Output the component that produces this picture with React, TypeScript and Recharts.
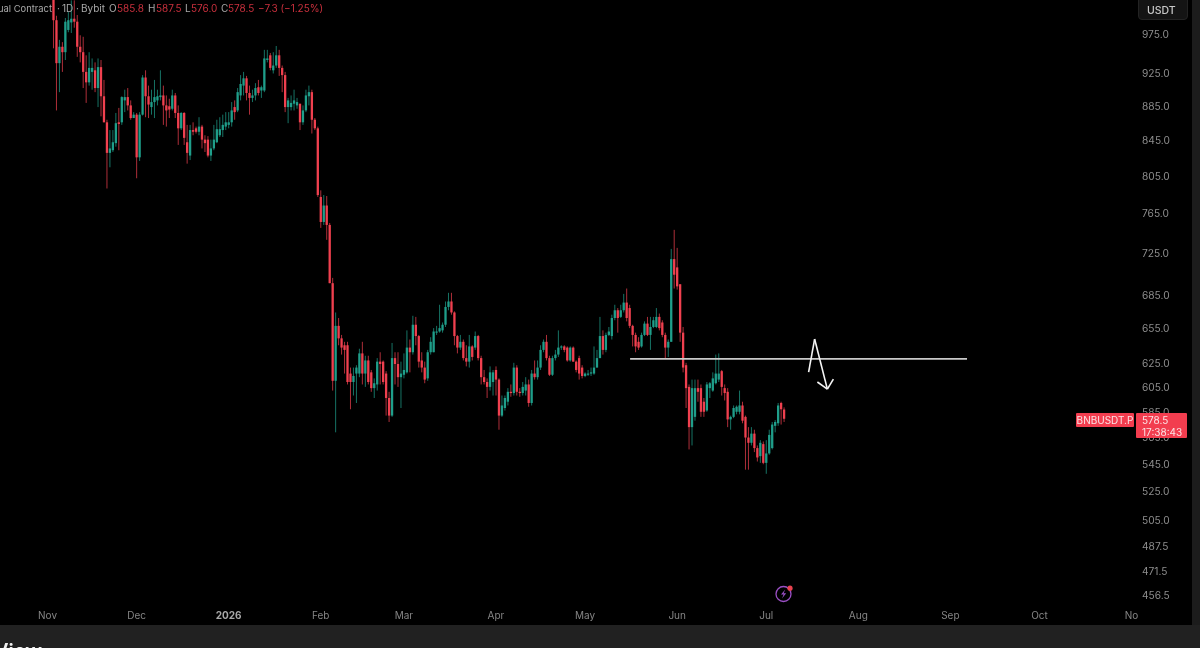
import React from "react";
import { ComposedChart, Bar, XAxis, YAxis, ReferenceLine } from "recharts";

const opens = [
  1040,992,936,957,950,979,989,994,990,957,
  950,925,912,925,927,905,931,895,864,829,
  832,840,864,864,890,894,884,869,873,824,
  873,918,895,882,888,890,894,896,884,883,
  880,896,875,857,875,841,826,855,857,853,
  859,844,844,826,834,841,849,855,859,861,
  864,882,878,896,908,917,899,893,896,906,
  902,902,940,946,927,933,946,930,921,882,
  882,886,884,886,864,878,895,900,867,857,
  781,755,772,752,695,609,656,645,639,639,
  615,608,615,615,632,615,626,616,603,606,
  625,625,615,595,581,628,623,612,614,616,
  637,633,657,647,626,620,611,633,633,650,
  651,652,657,673,678,668,647,637,642,628,
  625,638,637,647,628,612,608,604,608,618,
  610,581,587,592,600,599,620,600,599,601,
  606,591,615,612,620,635,642,628,614,628,
  631,637,638,637,626,637,625,628,620,613,
  614,615,615,620,628,647,635,648,647,663,
  670,664,670,677,672,656,648,642,638,648,
  658,648,655,655,664,659,648,637,642,718,
  710,694,650,622,604,572,580,603,603,592,
  585,603,601,607,610,617,603,600,578,580,
  584,584,589,580,564,560,567,556,550,559,
  545,552,556,573,575,591,585.8,
];
const highs = [
  1060,998,966,963,995,1003,1019,1019,999,972,
  970,946,950,942,937,942,940,915,867,855,
  855,875,881,895,903,905,890,876,875,876,
  921,927,908,903,915,903,927,908,896,892,
  903,899,884,876,876,861,861,864,859,870,
  861,849,848,844,861,867,870,873,876,876,
  888,890,905,921,925,920,908,903,911,915,
  908,953,953,949,950,958,953,933,925,893,
  896,903,893,886,884,903,908,903,869,859,
  788,783,782,754,700,668,663,648,642,642,
  620,620,622,636,642,630,630,618,611,628,
  633,626,617,600,641,633,633,625,632,652,
  644,665,664,648,633,625,635,646,654,656,
  675,659,678,686,686,669,648,648,644,639,
  648,639,651,648,630,618,611,621,618,621,
  611,597,597,603,606,624,622,603,608,612,
  610,618,626,626,639,644,648,630,630,635,
  652,639,639,638,638,638,626,630,622,616,
  618,620,638,635,664,652,650,655,666,675,
  672,675,685,690,675,657,650,646,650,660,
  664,664,664,672,667,661,650,644,728,747,
  729,694,655,624,606,610,610,610,606,595,
  608,608,616,631,632,618,606,603,581,589,
  589,601,592,581,572,572,570,558,562,561,
  562,570,576,577.5,591,592,587.5,
];
const lows = [
  955,878,900,925,940,976,975,982,944,937,
  905,887,908,903,900,882,871,864,790,813,
  830,836,832,861,876,878,867,869,801,820,
  872,870,869,873,869,884,890,861,859,869,
  878,869,838,855,838,817,821,849,851,849,
  834,830,824,820,832,840,847,847,855,857,
  859,867,876,890,896,890,873,888,890,896,
  893,900,937,927,923,930,920,900,876,863,
  878,878,880,855,861,876,884,851,855,781,
  749,752,737,695,601,568,639,631,615,606,
  586,597,591,612,606,604,606,600,595,601,
  606,606,581,576,580,606,604,587,611,615,
  616,631,639,620,616,607,609,631,633,648,
  650,650,655,670,666,639,632,635,626,621,
  620,626,635,626,606,606,595,601,597,597,
  570,580,585,589,596,597,597,596,597,597,
  588,589,610,610,618,633,626,613,613,626,
  629,635,633,625,625,625,616,610,611,612,
  613,613,614,620,628,631,633,647,644,661,
  650,663,668,660,654,638,633,635,637,647,
  647,635,654,654,652,646,628,629,642,690,
  689,642,616,587,555,558,577,592,580,580,
  584,595,600,606,608,597,593,572,570,579,
  582,582,575,540,540,558,553,546,545,544,
  537,551,555,568,573,574,576,
];
const closes = [
  992,936,957,950,990,992,994,990,957,950,
  925,912,930,930,905,931,895,864,829,834,
  841,863,862,894,894,884,869,873,824,873,
  918,895,885,888,894,895,896,884,878,879,
  896,875,857,875,846,829,855,853,853,859,
  844,840,826,834,844,856,856,861,864,864,
  878,876,900,910,917,899,893,896,905,899,
  906,942,942,930,933,946,930,921,882,890,
  887,890,888,864,878,896,900,867,857,783,
  755,772,752,695,609,656,645,637,635,608,
  608,613,620,632,615,626,608,603,607,625,
  623,608,595,581,628,623,612,615,618,637,
  633,657,647,625,620,610,633,642,651,651,
  654,657,673,678,668,647,637,642,628,625,
  638,629,647,628,612,608,604,616,616,610,
  581,589,595,600,599,620,600,599,604,606,
  591,615,612,620,635,642,628,614,628,631,
  637,638,635,626,637,625,618,615,613,615,
  615,616,620,628,647,635,648,651,663,670,
  663,670,677,663,656,648,638,637,648,658,
  648,655,661,664,654,648,637,642,718,703,
  692,650,620,603,572,603,603,600,584,584,
  606,607,611,615,615,604,599,578,580,587,
  588,589,577,564,560,567,556,549,560,545,
  552,566,574,576,589,586,578.5,
];

const priceTicks = [975,925,885,845,805,765,725,685,655,625,605,585,565,545,525,505,487.5,471.5,456.5];
const priceDomain = [452.7, 1019.5];

const monthTicks = [
  { date: "2025-11-01", label: "Nov" },
  { date: "2025-12-01", label: "Dec" },
  { date: "2026-01-01", label: "2026" },
  { date: "2026-02-01", label: "Feb" },
  { date: "2026-03-01", label: "Mar" },
  { date: "2026-04-01", label: "Apr" },
  { date: "2026-05-01", label: "May" },
  { date: "2026-06-01", label: "Jun" },
  { date: "2026-07-01", label: "Jul" },
  { date: "2026-08-01", label: "Aug" },
  { date: "2026-09-01", label: "Sep" },
  { date: "2026-10-01", label: "Oct" },
  { date: "2026-11-01", label: "No" },
];

const TOTAL_DAYS = 382;
const FIRST_CANDLE_DAY = 17;
const START_DATE = Date.UTC(2025, 9, 17);

const rows = Array.from({ length: TOTAL_DAYS }, (_, i) => {
  const date = new Date(START_DATE + i * 86400000).toISOString().slice(0, 10);
  const k = i - FIRST_CANDLE_DAY;
  if (k < 0 || k >= opens.length) return { date, open: null, high: null, low: null, close: null };
  return { date, open: opens[k], high: highs[k], low: lows[k], close: closes[k] };
});

// Hand-drawn annotations, [day, price]
const levelLine = [[211.1, 627.4], [324.25, 627.4]];
const zigzag = [[271.05, 616.2], [273.07, 644.4], [277.35, 602.2]];
const arrowHead = [[274.0, 608], [277.35, 602.2], [279.37, 610.4]];

const UP = "#1f9e8a";
const DOWN = "#f0404f";
const FONT = "Inter, sans-serif";

function Candle(props: any) {
  const { x, y, width, height, payload } = props;
  if (payload == null || payload.high == null || !isFinite(y) || !isFinite(height)) return null;
  const { open, high, low, close } = payload;
  const up = close >= open;
  const color = up ? UP : DOWN;
  const span = Math.log(high / low) || 1;
  const top = y + (height * Math.log(high / Math.max(open, close))) / span;
  const bottom = y + (height * Math.log(high / Math.min(open, close))) / span;
  const cx = x + width / 2;
  return (
    <g>
      <rect x={cx - 0.5} y={y} width={1} height={height} fill={color} fillOpacity={0.72} />
      <rect x={cx - 1.15} y={top} width={2.3} height={Math.max(bottom - top, 1)} fill={color} />
    </g>
  );
}

function MonthTick(props: any) {
  const { x, y, payload } = props;
  const t = monthTicks.find((m) => m.date === payload.value);
  if (!t) return null;
  const bold = t.label === "2026";
  return (
    <text x={x} y={y} textAnchor="middle" dominantBaseline="central" fontSize={10} fontFamily={FONT}
      fontWeight={bold ? 700 : 400} fill={bold ? "#a8a8a8" : "#858585"}>
      {t.label}
    </text>
  );
}

function PriceTick(props: any) {
  const { x, y, payload } = props;
  return (
    <text x={x} y={y + 1} textAnchor="start" dominantBaseline="central" fontSize={10.2} fontFamily={FONT} fill="#8e8e8e">
      {Number(payload.value).toFixed(1)}
    </text>
  );
}

function segments(points: number[][], color: string, w: number, prefix: string) {
  return points.slice(1).map((p, i) => (
    <ReferenceLine
      key={prefix + i}
      xAxisId="t"
      ifOverflow="visible"
      stroke={color}
      strokeWidth={w}
      segment={[
        { x: points[i][0], y: points[i][1] },
        { x: p[0], y: p[1] },
      ]}
    />
  ));
}

const LABEL = "#a9a9a9";
const VALUE = "#c9303d";
const headerParts: [number, string, string, number][] = [
  [-2, "ual Contract", LABEL, 9.4],
  [57, "·", LABEL, 10],
  [62, "1D", LABEL, 10],
  [76, "·", LABEL, 10],
  [81, "Bybit", LABEL, 10],
  [109, "O", LABEL, 10],
  [117, "585.8", VALUE, 10],
  [148, "H", LABEL, 10],
  [156, "587.5", VALUE, 10],
  [185, "L", LABEL, 10],
  [191, "576.0", VALUE, 10],
  [221, "C", LABEL, 10],
  [228, "578.5", VALUE, 10],
  [258, "−7.3 (−1.25%)", VALUE, 10],
];

export default function App() {
  return (
    <div style={{ position: "absolute", top: 0, left: 0, width: 1200, height: 648, background: "#000", overflow: "hidden", fontFamily: FONT, filter: "blur(0.3px)" }}>
      <ComposedChart
        width={1200}
        height={625}
        data={rows}
        margin={{ top: 0, right: 0, bottom: 0, left: 1.5 }}
        barCategoryGap={0}
        barGap={0}
      >
        <XAxis
          dataKey="date"
          type="category"
          height={25}
          ticks={monthTicks.map((m) => m.date)}
          interval={0}
          axisLine={false}
          tickLine={false}
          tickMargin={0}
          tick={(p: any) => <MonthTick {...p} y={615} />}
          allowDataOverflow
        />
        <XAxis xAxisId="t" type="number" hide domain={[-0.5, TOTAL_DAYS - 0.5]} allowDataOverflow />
        <YAxis
          orientation="right"
          width={64}
          scale="log"
          type="number"
          domain={priceDomain}
          ticks={priceTicks}
          interval={0}
          allowDataOverflow
          axisLine={false}
          tickLine={false}
          tick={(p: any) => <PriceTick {...p} x={1142} />}
        />
        <Bar
          dataKey={(d: any) => (d.high == null ? null : [d.low, d.high])}
          isAnimationActive={false}
          shape={<Candle />}
        />
        {segments(levelLine, "#c9c9c9", 1.8, "level")}
        {segments(zigzag, "#f4f4f4", 1.6, "zig")}
        {segments(arrowHead, "#f4f4f4", 1.6, "head")}
      </ComposedChart>

      {headerParts.map(([x, t, c, s], i) => (
        <span key={i} style={{ position: "absolute", left: x, top: 2, fontSize: s, lineHeight: "13px", color: c, whiteSpace: "nowrap" }}>{t}</span>
      ))}

      <div style={{ position: "absolute", left: 1138, top: -6, width: 50, height: 26, boxSizing: "border-box", background: "#141414", border: "1px solid #232323", borderRadius: 4, color: "#c8c8c8", fontSize: 10.5, fontWeight: 500, lineHeight: "31px", paddingLeft: 8 }}>USDT</div>

      <div style={{ position: "absolute", left: 1076, top: 413, width: 58, height: 14, background: "#f23d4f", color: "#fbe3e5", fontSize: 10, lineHeight: "14px", textAlign: "center", borderRadius: 1 }}>BNBUSDT.P</div>
      <div style={{ position: "absolute", left: 1136, top: 413, width: 51, height: 24.5, background: "#f23d4f", color: "#fbe3e5", fontSize: 10, lineHeight: "12px", paddingLeft: 6, paddingTop: 1, boxSizing: "border-box", borderRadius: 1 }}>
        578.5<br />17:38:43
      </div>

      <svg style={{ position: "absolute", left: 773, top: 584 }} width={22} height={20} viewBox="0 0 22 20">
        <circle cx={10.5} cy={10} r={7.5} fill="none" stroke="#9a4fc4" strokeWidth={1.3} />
        <path d="M12.2 5.6 L8 10.6 L10.6 10.6 L9 14.4 L13.2 9.2 L10.6 9.2 Z" fill="#9a4fc4" />
        <circle cx={17} cy={4.2} r={2.6} fill="#e8434f" />
      </svg>

      <div style={{ position: "absolute", left: 1192, top: 0, width: 8, height: 625, background: "#1c1c1c" }} />
      <div style={{ position: "absolute", left: 0, top: 625, width: 1200, height: 23, background: "#212121", overflow: "hidden" }}>
        <span style={{ position: "absolute", right: 1158, top: 14, fontSize: 20, fontWeight: 600, color: "#f0f0f0", lineHeight: "24px", whiteSpace: "nowrap" }}>TradingView</span>
      </div>
    </div>
  );
}
